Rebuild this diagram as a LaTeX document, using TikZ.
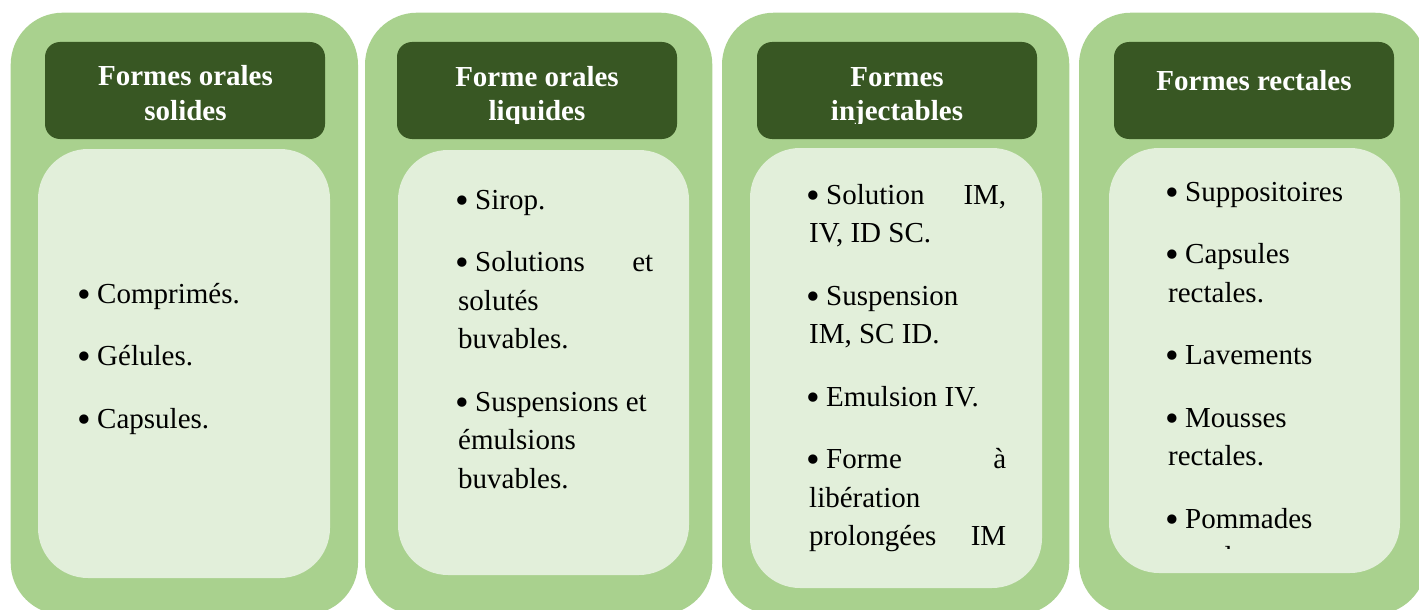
\documentclass[tikz,border=0pt]{standalone}
\usepackage{fontspec}
\setmainfont{Liberation Serif}
\definecolor{outerg}{HTML}{A9D18E}
\definecolor{headg}{HTML}{385723}
\definecolor{innerg}{HTML}{E2EFDA}
\newcommand\mybul{\makebox[17pt][l]{\hspace{-3pt}\raisebox{-4pt}[0pt][0pt]{\fontsize{39}{39}\selectfont •}}}
\tikzset{
  outerbox/.style={fill=outerg, draw=none, rounded corners=52pt, minimum width=347.3pt, minimum height=602pt, anchor=north west, inner sep=0pt, outer sep=0pt},
  headbox/.style={fill=headg, draw=none, rounded corners=15pt, minimum width=280pt, minimum height=97pt, anchor=north west, inner sep=0pt, outer sep=0pt},
  innerbox/.style={fill=innerg, draw=none, rounded corners=50pt, minimum width=292pt, anchor=north west, inner sep=0pt, outer sep=0pt},
  headtxt/.style={text=white, font=\bfseries\fontsize{29}{35}\selectfont, anchor=base, inner sep=0pt},
  bodytxt/.style={text=black, font=\fontsize{29}{38.5}\selectfont, anchor=base west, inner sep=0pt},
}
\begin{document}
\begin{tikzpicture}[x=1pt,y=-1pt]
\useasboundingbox (0,0) rectangle (1419,610);
% outer columns
\node[outerbox] (o1) at (10.7,12.7) {};
\node[outerbox] (o2) at (365,12.7) {};
\node[outerbox] (o3) at (722,12.7) {};
\node[outerbox] (o4) at (1079,12.7) {};
% headers
\node[headbox] (h1) at (45,42) {};
\node[headbox] (h2) at (397,42) {};
\node[headbox] (h3) at (757,42) {};
\node[headbox] (h4) at (1114,42) {};
% inner boxes
\node[innerbox, minimum height=429pt] (i1) at (38,149) {};
\node[innerbox, minimum height=425pt, minimum width=291pt] (i2) at (398,150) {};
\node[innerbox, minimum height=440pt] (i3) at (750,148) {};
\node[innerbox, minimum height=425pt, minimum width=291pt] (i4) at (1109,148) {};
% header texts
\begin{scope}
\clip (0,30) rectangle (1419,123.5);
\node[headtxt] (ht1) at (185.5,85) {\parbox[t]{280pt}{\centering Formes orales\\solides}};
\node[headtxt] (ht2) at (537,86) {\parbox[t]{280pt}{\centering Forme orales\\liquides}};
\node[headtxt] (ht3) at (897,86) {\parbox[t]{280pt}{\centering Formes\\injectables}};
\node[headtxt] (ht4) at (1254,91) {\parbox[t]{280pt}{\centering Formes rectales}};
\end{scope}
% body texts
\node[bodytxt] (t1) at (80,303) {\parbox[t]{240pt}{%
\mybul Comprimés.\\[24pt]
\mybul Gélules.\\[24pt]
\mybul Capsules.}};
\node[bodytxt] (t2) at (458,209) {\parbox[t]{195pt}{%
\mybul Sirop.\\[24pt]
\mybul Solutions\hfill et\\
solutés\\
buvables.\\[24pt]
\mybul Suspensions et\\
émulsions\\
buvables.}};
\node[bodytxt] (t3) at (809,204) {\parbox[t]{197pt}{%
\mybul Solution\hfill IM,\\
IV, ID SC.\\[24pt]
\mybul Suspension\\
IM, SC ID.\\[24pt]
\mybul Emulsion IV.\\[24pt]
\mybul Forme\hfill à\\
libération\\
prolongées\hfill IM}};
\begin{scope}
\clip (1100,140) rectangle (1419,548);
\node[bodytxt] (t4) at (1168,201) {\parbox[t]{220pt}{%
\mybul Suppositoires\\[24pt]
\mybul Capsules\\
rectales.\\[24pt]
\mybul Lavements\\[24pt]
\mybul Mousses\\
rectales.\\[24pt]
\mybul Pommades\\
rectales.}};
\end{scope}
\end{tikzpicture}
\end{document}
